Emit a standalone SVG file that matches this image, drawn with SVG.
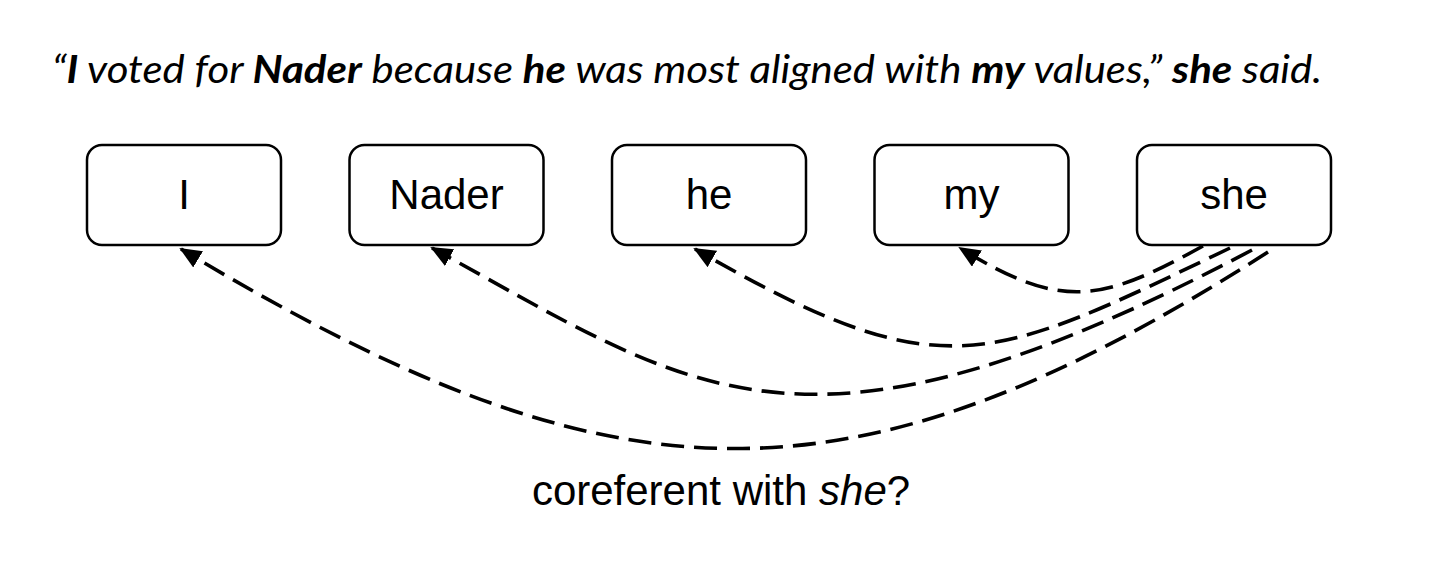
<svg xmlns="http://www.w3.org/2000/svg" width="1442" height="574" viewBox="0 0 1442 574">
<style>
.box{fill:#fff;stroke:#000;stroke-width:2.5}
.lbl{font-family:"Liberation Sans",Arial,sans-serif;font-size:42px;fill:#000;text-anchor:middle}
.conn{fill:none;stroke:#000;stroke-width:3.6;stroke-dasharray:23 10}
.sent{font-family:Lato,"Open Sans",sans-serif;font-style:italic;font-size:39px;fill:#000}
</style>
<defs>
<marker id="ah" markerUnits="userSpaceOnUse" markerWidth="22" markerHeight="19" viewBox="0 0 22 19" refX="20" refY="9.5" orient="auto">
<path d="M0,0 L22,9.5 L0,19 Z" fill="#000"/>
</marker>
</defs>
<rect width="1442" height="574" fill="#fff"/>
<text class="sent" x="52" y="83" textLength="1270" lengthAdjust="spacingAndGlyphs">“<tspan font-weight="bold">I</tspan> voted for <tspan font-weight="bold">Nader</tspan> because <tspan font-weight="bold">he</tspan> was most aligned with <tspan font-weight="bold">my</tspan> values,” <tspan font-weight="bold">she</tspan> said.</text>
<g id="connectors">
<path class="conn" marker-end="url(#ah)" d="M1268,252 C845,523 608,506 181,249"/>
<path class="conn" marker-end="url(#ah)" d="M1252,250 C800,489 692,390 432,248"/>
<path class="conn" marker-end="url(#ah)" d="M1230,248 C986,365 941,391 695,249"/>
<path class="conn" marker-end="url(#ah)" d="M1203,246 C1103,301 1063,312 960,248"/>
</g>
<g id="node-I"><rect class="box" x="87" y="145" width="194" height="100" rx="15"/><text class="lbl" x="184" y="209">I</text></g>
<g id="node-Nader"><rect class="box" x="349.5" y="145" width="194" height="100" rx="15"/><text class="lbl" x="446.5" y="209">Nader</text></g>
<g id="node-he"><rect class="box" x="612" y="145" width="194" height="100" rx="15"/><text class="lbl" x="709" y="209">he</text></g>
<g id="node-my"><rect class="box" x="874.5" y="145" width="194" height="100" rx="15"/><text class="lbl" x="971.5" y="209">my</text></g>
<g id="node-she"><rect class="box" x="1137" y="145" width="194" height="100" rx="15"/><text class="lbl" x="1234" y="209">she</text></g>
<text class="lbl" x="721" y="505">coreferent with <tspan font-style="italic">she</tspan>?</text>
</svg>
